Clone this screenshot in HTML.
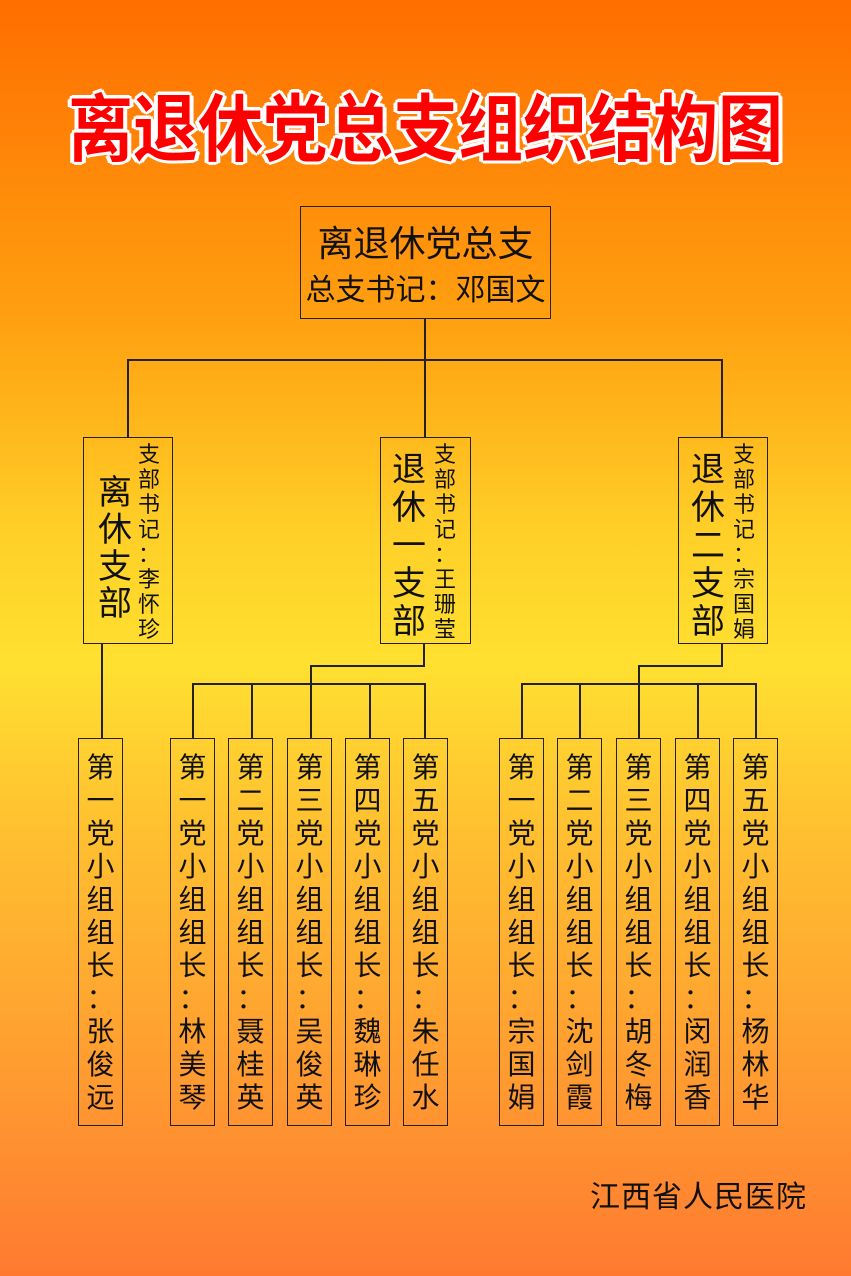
<!DOCTYPE html>
<html><head><meta charset="utf-8"><style>
*{margin:0;padding:0;box-sizing:border-box}
body{width:851px;height:1276px;position:relative;overflow:hidden;font-family:"Liberation Sans","Noto Sans CJK SC",sans-serif;
background:linear-gradient(to bottom,#ff6e00 0%,#ffa010 25%,#ffd028 42%,#ffe030 52%,#ffc030 65%,#ff9a30 85%,#ff7a30 100%);}
.t{position:absolute;left:0;width:851px;top:70px;text-align:center;font-size:65px;font-weight:bold;color:#f00;letter-spacing:0px;transform:scaleY(1.13);transform-origin:50% 0;
text-shadow:3px 0 #fff,-3px 0 #fff,0 3px #fff,0 -3px #fff,2px 2px #fff,-2px -2px #fff,2px -2px #fff,-2px 2px #fff,4px 1px #fff,-4px 1px #fff;}
.b{position:absolute;border:1.5px solid #222}
.l{position:absolute;background:#222}
.v{position:absolute;color:#111;text-align:center;font-family:"Noto Sans CJK SC",sans-serif}
.v span{display:block}
</style></head><body>
<div class="t">离退休党总支组织结构图</div>

<div class="b" style="left:300px;top:206px;width:251px;height:113px"></div>
<div class="v" style="left:300px;top:218px;width:251px;font-size:36px;line-height:46px">离退休党总支</div>
<div class="v" style="left:300px;top:267px;width:251px;font-size:30px;line-height:40px">总支书记：邓国文</div>

<div class="l" style="left:424px;top:318px;width:1.5px;height:42px"></div>
<div class="l" style="left:127px;top:359px;width:596px;height:1.5px"></div>
<div class="l" style="left:127px;top:359px;width:1.5px;height:78px"></div>
<div class="l" style="left:424px;top:359px;width:1.5px;height:78px"></div>
<div class="l" style="left:721px;top:359px;width:1.5px;height:78px"></div>

<div class="b" style="left:83px;top:437px;width:90px;height:207px"></div>
<div class="v" style="left:96px;top:471px;width:38px;font-size:34px;line-height:37px"><span>离</span><span>休</span><span>支</span><span>部</span></div>
<div class="v" style="left:136px;top:441px;width:26px;font-size:22px;line-height:25px"><span>支</span><span>部</span><span>书</span><span>记</span><span>：</span><span>李</span><span>怀</span><span>珍</span></div>

<div class="b" style="left:380px;top:437px;width:91px;height:207px"></div>
<div class="v" style="left:389px;top:448px;width:40px;font-size:34px;line-height:38px"><span>退</span><span>休</span><span>一</span><span>支</span><span>部</span></div>
<div class="v" style="left:432px;top:441px;width:26px;font-size:22px;line-height:25px"><span>支</span><span>部</span><span>书</span><span>记</span><span>：</span><span>王</span><span>珊</span><span>莹</span></div>

<div class="b" style="left:678px;top:437px;width:90px;height:207px"></div>
<div class="v" style="left:688px;top:448px;width:40px;font-size:34px;line-height:38px"><span>退</span><span>休</span><span>二</span><span>支</span><span>部</span></div>
<div class="v" style="left:731px;top:441px;width:26px;font-size:22px;line-height:25px"><span>支</span><span>部</span><span>书</span><span>记</span><span>：</span><span>宗</span><span>国</span><span>娟</span></div>

<div class="l" style="left:101px;top:643px;width:1.5px;height:95px"></div>
<div class="l" style="left:423px;top:643px;width:1.5px;height:23px"></div>
<div class="l" style="left:310px;top:665px;width:115px;height:1.5px"></div>
<div class="l" style="left:310px;top:665px;width:1.5px;height:19px"></div>
<div class="l" style="left:192px;top:683px;width:233px;height:1.5px"></div>
<div class="l" style="left:721px;top:643px;width:1.5px;height:23px"></div>
<div class="l" style="left:638px;top:665px;width:85px;height:1.5px"></div>
<div class="l" style="left:638px;top:665px;width:1.5px;height:19px"></div>
<div class="l" style="left:521px;top:683px;width:235px;height:1.5px"></div>

<div id="g"></div>
<div class="v" style="left:590px;top:1175px;width:260px;font-size:30px;line-height:38px;text-align:left;letter-spacing:1px">江西省人民医院</div>
<script>
var xs=[[78,101,false,'一','张俊远'],[170,192,true,'一','林美琴'],[228,251,true,'二','聂桂英'],[287,310,true,'三','吴俊英'],[345,369,true,'四','魏琳珍'],[403,424,true,'五','朱任水'],
[499,521,true,'一','宗国娟'],[557,579,true,'二','沈剑霞'],[616,638,true,'三','胡冬梅'],[675,697,true,'四','闵润香'],[733,755,true,'五','杨林华']];
var h='';
xs.forEach(function(a){
 if(a[2]) h+='<div class="l" style="left:'+a[1]+'px;top:683px;width:1.5px;height:55px"></div>';
 h+='<div class="b" style="left:'+a[0]+'px;top:738px;width:45px;height:388px"></div>';
 var s='第'+a[3]+'党小组组长：'+a[4],c='';
 for(var i=0;i<s.length;i++)c+='<span>'+s[i]+'</span>';
 h+='<div class="v" style="left:'+a[0]+'px;top:750px;width:45px;font-size:28px;line-height:33px">'+c+'</div>';
});
document.getElementById('g').innerHTML=h;
</script>
</body></html>
